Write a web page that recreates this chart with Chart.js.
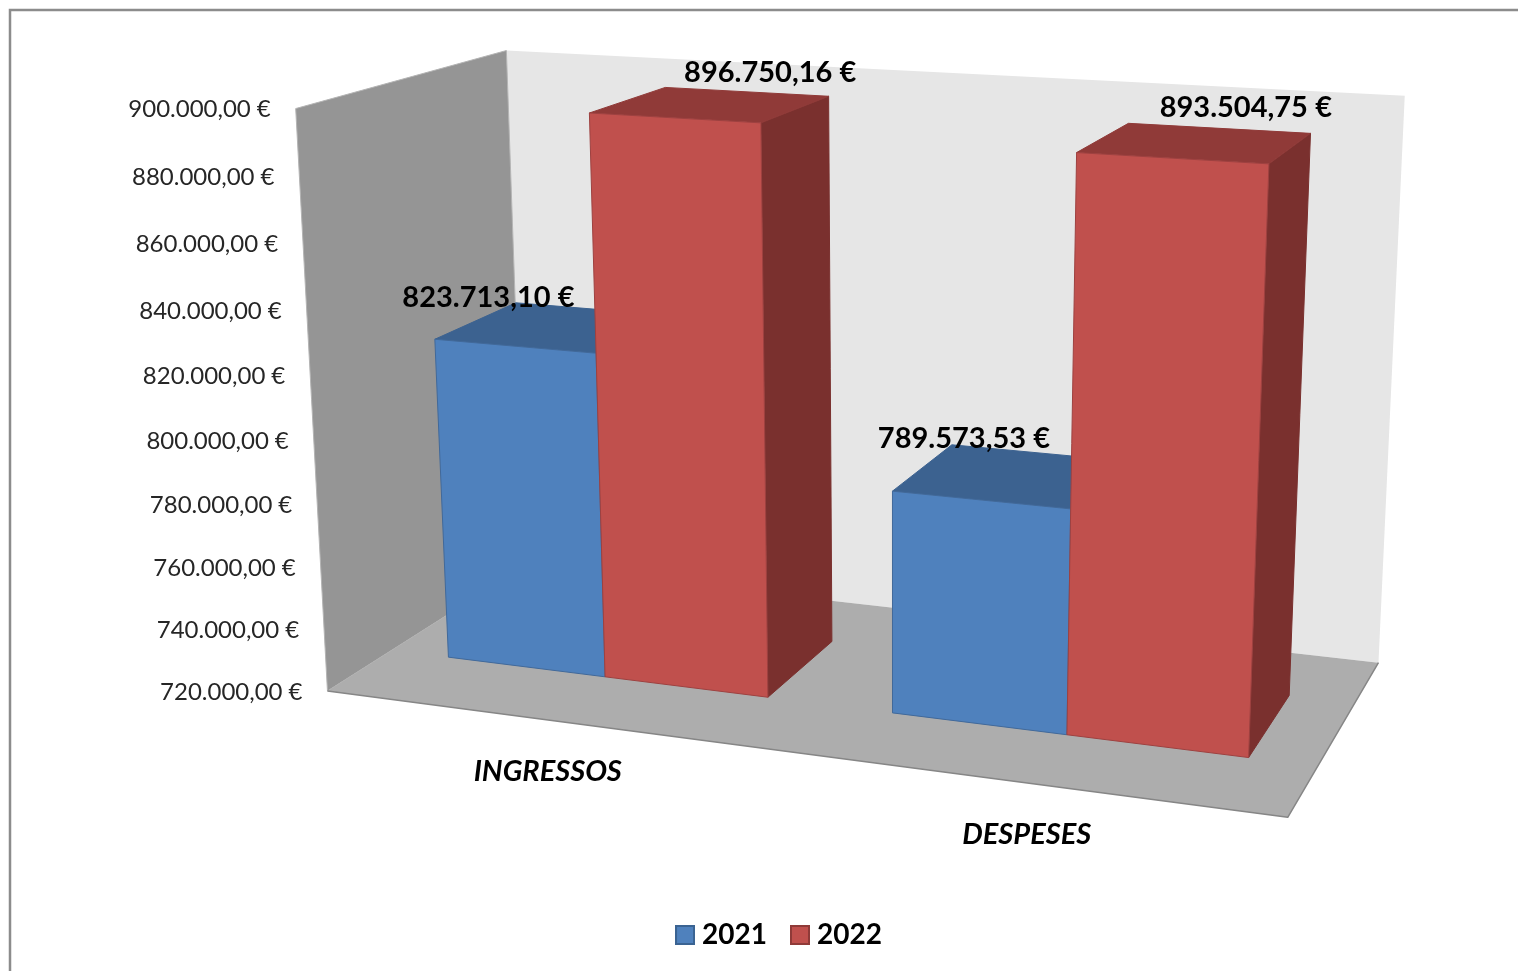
<!DOCTYPE html>
<html>
<head>
<meta charset="utf-8">
<style>html,body{margin:0;padding:0;background:#fff;overflow:hidden}canvas{display:block}</style>
<script src="https://cdn.jsdelivr.net/npm/chart.js@4"></script>
</head>
<body>
<canvas id="c" width="1518" height="971"></canvas>
<script>
const categories = ['INGRESSOS', 'DESPESES'];
const seriesNames = ['2021', '2022'];
const values2021 = [823713.10, 789573.53];
const values2022 = [896750.16, 893504.75];
const axisMin = 720000, axisMax = 900000, axisStep = 20000;

const frontColors = ['#4F81BD', '#C0504D'];
const topColors = ['#3C6290', '#903A38'];
const sideColors = ['#345680', '#7A302E'];
const edgeColors = ['#41699A', '#9E4140'];
const labelOffsetX = [[-66, -45], [59, 50]];
const labelOffsetY = [[-29, -37], [-32, -35]];
const barDepth = [0.30, 0.71];
const font = 'Lato, Carlito, sans-serif';

// 3D box corners (category, value, depth) -> position on the page
const boxCorners = [
  [0,1,0, 297,109],[0,1,1, 505,50],[1,1,1, 1405,96],[1,0,1, 1378,662],
  [1,0,0, 1288,818],[0,0,0, 326,690],[0,0,1, 526,567]
];
function solveCamera(pts){
  const A=[],b=[];
  for(const [X,Y,Z,x0,y0] of pts){
    const x=x0/1000,y=y0/1000;
    A.push([X,Y,Z,1,0,0,0,0,-x*X,-x*Y,-x*Z]);b.push(x);
    A.push([0,0,0,0,X,Y,Z,1,-y*X,-y*Y,-y*Z]);b.push(y);
  }
  const n=11,M=[];
  for(let i=0;i<n;i++){M.push(new Array(n+1).fill(0));
    for(let j=0;j<n;j++)for(let k=0;k<A.length;k++)M[i][j]+=A[k][i]*A[k][j];
    for(let k=0;k<A.length;k++)M[i][n]+=A[k][i]*b[k];}
  for(let i=0;i<n;i++){let p=i;for(let r=i+1;r<n;r++)if(Math.abs(M[r][i])>Math.abs(M[p][i]))p=r;
    [M[i],M[p]]=[M[p],M[i]];
    for(let r=0;r<n;r++)if(r!==i){const f=M[r][i]/M[i][i];for(let c=i;c<=n;c++)M[r][c]-=f*M[i][c];}}
  return M.map((r,i)=>r[n]/r[i]);
}
const cam = solveCamera(boxCorners);
function project(u,v,w){
  const d=cam[8]*u+cam[9]*v+cam[10]*w+1;
  return [1000*(cam[0]*u+cam[1]*v+cam[2]*w+cam[3])/d, 1000*(cam[4]*u+cam[5]*v+cam[6]*w+cam[7])/d];
}
function poly(ctx,pts,fill,stroke){
  ctx.beginPath();pts.forEach((p,i)=>i?ctx.lineTo(p[0],p[1]):ctx.moveTo(p[0],p[1]));ctx.closePath();
  ctx.fillStyle=fill;ctx.fill();
  if(stroke){ctx.strokeStyle=stroke;ctx.lineWidth=1;ctx.lineJoin='round';ctx.stroke();}
}
function money(v){
  const [i,d]=v.toFixed(2).split('.');
  return i.replace(/\B(?=(\d{3})+$)/g,'.')+','+d+'\u202f€';
}
function swatch(fill,border){
  const s=document.createElement('canvas');s.width=20;s.height=20;
  const g=s.getContext('2d');g.fillStyle=border;g.fillRect(0,0,20,20);g.fillStyle=fill;g.fillRect(2,2,16,16);return s;
}
const swatches=[swatch(frontColors[0],'#3A6392'),swatch(frontColors[1],'#8F3A38')];

const scene3d={
  id:'scene3d',
  beforeDatasetsDraw(chart){
    const ctx=chart.ctx,a=chart.chartArea,xs=chart.scales.x,ys=chart.scales.y;
    const U=px=>(px-a.left)/a.width, V=py=>(a.bottom-py)/a.height;
    ctx.save();
    // outer frame
    ctx.strokeStyle='#8C8C8C';ctx.lineWidth=2.5;
    ctx.beginPath();ctx.moveTo(10,980);ctx.lineTo(10,10);ctx.lineTo(1530,10);ctx.stroke();
    // walls and floor
    poly(ctx,[project(0,0,1),project(1,0,1),project(1,1,1),project(0,1,1)],'#E6E6E6');
    poly(ctx,[project(0,0,0),project(0,0,1),project(0,1,1),project(0,1,0)],'#959595','#B4B4B4');
    poly(ctx,[project(0,0,0),project(1,0,0),project(1,0,1),project(0,0,1)],'#ADADAD');
    ctx.strokeStyle='#868686';ctx.lineWidth=1.5;ctx.beginPath();
    let p=project(0,0,0);ctx.moveTo(p[0],p[1]);p=project(1,0,0);ctx.lineTo(p[0],p[1]);p=project(1,0,1);ctx.lineTo(p[0],p[1]);ctx.stroke();
    // bars
    const [w0,w1]=barDepth, labels=[];
    categories.forEach((c,j)=>{
      chart.data.datasets.forEach((ds,i)=>{
        const b=chart.getDatasetMeta(i).data[j];
        const u0=U(b.x-b.width/2),u1=U(b.x+b.width/2),v0=V(b.base),v1=V(b.y);
        poly(ctx,[project(u1,v0,w0),project(u1,v0,w1),project(u1,v1,w1),project(u1,v1,w0)],sideColors[i],sideColors[i]);
        poly(ctx,[project(u0,v1,w0),project(u1,v1,w0),project(u1,v1,w1),project(u0,v1,w1)],topColors[i],topColors[i]);
        poly(ctx,[project(u0,v0,w0),project(u1,v0,w0),project(u1,v1,w0),project(u0,v1,w0)],frontColors[i],edgeColors[i]);
        const m=project((u0+u1)/2,v1,(w0+w1)/2);
        labels.push([money(ds.data[j]),m[0]+labelOffsetX[i][j],m[1]+labelOffsetY[i][j]]);
      });
    });
    // value labels
    ctx.fillStyle='#000';ctx.font='bold 29px '+font;ctx.textAlign='center';ctx.textBaseline='middle';
    labels.forEach(l=>ctx.fillText(l[0],l[1],l[2]));
    // value axis labels
    ctx.fillStyle='#262626';ctx.font='24px '+font;ctx.textAlign='right';
    ys.ticks.forEach(t=>{
      const q=project(0,V(ys.getPixelForValue(t.value)),0);
      ctx.fillText(t.label,q[0]-25,q[1]+1);
    });
    // category labels
    ctx.fillStyle='#000';ctx.font='italic bold 29px '+font;ctx.textAlign='center';
    categories.forEach((c,j)=>{
      const q=project(U(xs.getPixelForTick(j)),0,0);
      ctx.fillText(c,q[0],q[1]+52);
    });
    ctx.restore();
    return false;
  }
};

new Chart(document.getElementById('c'),{
  type:'bar',
  data:{labels:categories,datasets:[
    {label:seriesNames[0],data:values2021,backgroundColor:frontColors[0],base:axisMin},
    {label:seriesNames[1],data:values2022,backgroundColor:frontColors[1],base:axisMin}
  ]},
  options:{
    responsive:false,animation:false,
    layout:{padding:{left:46,bottom:12}},
    datasets:{bar:{categoryPercentage:0.73,barPercentage:1}},
    scales:{
      x:{grid:{display:false},border:{display:false},ticks:{display:false}},
      y:{min:axisMin,max:axisMax,grid:{display:false},border:{display:false},
         ticks:{display:false,stepSize:axisStep,callback:v=>money(v)}}
    },
    plugins:{
      tooltip:{enabled:false},
      legend:{position:'bottom',labels:{
        usePointStyle:true,pointStyleWidth:6,padding:30,color:'#000',
        font:{family:font,size:28,weight:'bold'},
        generateLabels(chart){
          const items=Chart.defaults.plugins.legend.labels.generateLabels(chart);
          items.forEach((it,i)=>{it.pointStyle=swatches[i];});
          return items;
        }
      }}
    }
  },
  plugins:[scene3d]
});
</script>
</body>
</html>
